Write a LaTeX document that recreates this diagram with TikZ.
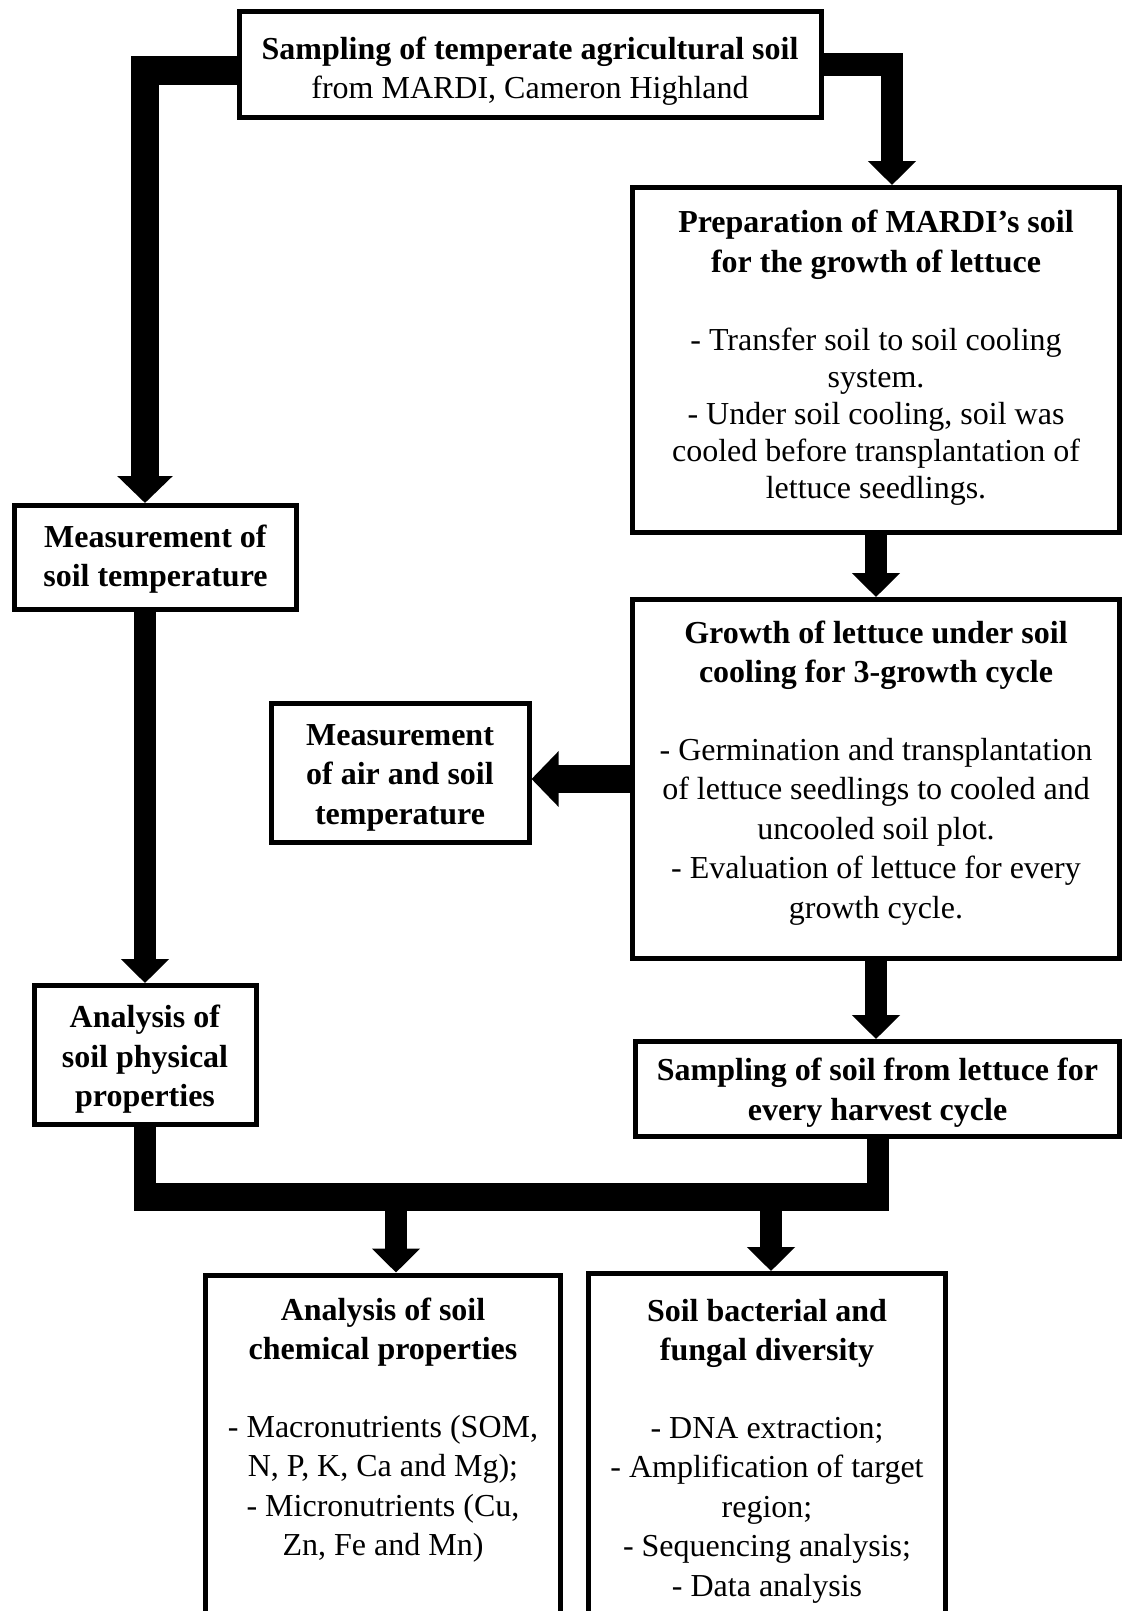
\documentclass[tikz,border=0pt]{standalone}
\usepackage{fontspec}
\setmainfont{Liberation Serif}
\usepackage{tikz}
\usetikzlibrary{arrows.meta}

% invisible struts to nudge text inside a box
\newcommand{\padtop}[1]{\rule{0pt}{#1}}
\newcommand{\padbot}[1]{\rule[-#1]{0pt}{#1}}

\begin{document}
\begin{tikzpicture}[
    x=1pt, y=-1pt,
    every node/.style={font=\fontsize{32}{39.5}\selectfont},
    box/.style={draw, line width=5pt, align=center, inner sep=0pt},
    link/.style={line width=22pt},
    bar/.style={line width=28pt},
    flow/.style={link, -{Triangle[length=24pt, width=47pt]}},
    wideflow/.style={bar, -{Triangle[length=27pt, width=54pt]}},
]
\useasboundingbox (0,0) rectangle (1124,1611);
\clip (0,0) rectangle (1124,1611);

% boxes (top to bottom, pixel positions of the figure)
\node[box, minimum width=582, minimum height=106] (sampling) at (530,64.5)
    {\padtop{36pt}\textbf{Sampling of temperate agricultural soil}\\from MARDI, Cameron Highland};
\node[box, minimum width=487, minimum height=345, font=\fontsize{32}{37}\selectfont] (prep) at (876,360)
    {\textbf{Preparation of MARDI's soil}\\[3pt]\textbf{for the growth of lettuce}\\[41pt]
     - Transfer soil to soil cooling\\system.\\- Under soil cooling, soil was\\
     cooled before transplantation of\\lettuce seedlings.\padbot{12pt}};
\node[box, minimum width=282, minimum height=104] (soiltemp) at (155.5,557.5)
    {\padtop{26pt}\textbf{Measurement of}\\\textbf{soil temperature}};
\node[box, minimum width=487, minimum height=359] (growth) at (876,779)
    {\textbf{Growth of lettuce under soil}\\\textbf{cooling for 3-growth cycle}\\[38pt]
     - Germination and transplantation\\of lettuce seedlings to cooled and\\
     uncooled soil plot.\\- Evaluation of lettuce for every\\growth cycle.\padbot{19pt}};
\node[box, minimum width=258, minimum height=139] (airsoil) at (400,773)
    {\padtop{30pt}\textbf{Measurement}\\\textbf{of air and soil}\\\textbf{temperature}};
\node[box, minimum width=222, minimum height=139] (phys) at (145,1055)
    {\padtop{31pt}\textbf{Analysis of}\\\textbf{soil physical}\\\textbf{properties}};
\node[box, minimum width=484, minimum height=95] (harvest) at (877.5,1089)
    {\padtop{30pt}\textbf{Sampling of soil from lettuce for}\\\textbf{every harvest cycle}};
\node[box, minimum width=355, minimum height=355] (chem) at (383,1452.5)
    {\textbf{Analysis of soil}\\\textbf{chemical properties}\\[38pt]
     - Macronutrients (SOM,\\N, P, K, Ca and Mg);\\- Micronutrients (Cu,\\
     Zn, Fe and Mn)\\ \strut};
\node[box, minimum width=357, minimum height=355] (bact) at (767,1451)
    {\textbf{Soil bacterial and}\\\textbf{fungal diversity}\\[38pt]
     - DNA extraction;\\- Amplification of target\\region;\\
     - Sequencing analysis;\\- Data analysis};

% left branch
\draw[wideflow] ([yshift=-6pt]sampling.west) -| (phys.north |- soiltemp.north);
\draw[flow] (phys.north |- soiltemp.south) -- (phys.north);

% right branch
\draw[flow] (sampling.east) -| ([xshift=16pt]prep.north);
\draw[flow] (prep.south) -- (growth.north);
\draw[wideflow] (growth.west) -- (growth.west -| airsoil.east);
\draw[flow] (growth.south) -- (growth.south |- harvest.north);

% both branches join, then split to the soil analyses
\coordinate (split1) at (396,1197);
\coordinate (split2) at (771,1197);
\draw[link] (phys.south) -- (phys.south |- split1);
\draw[link] (harvest.south) -- (harvest.south |- split1);
\draw[bar] ([xshift=-11pt]phys.south |- split1) -- ([xshift=11pt]harvest.south |- split1);
\draw[flow] (split1) -- (split1 |- chem.north);
\draw[flow] (split2) -- (split2 |- bact.north);

\end{tikzpicture}
\end{document}
